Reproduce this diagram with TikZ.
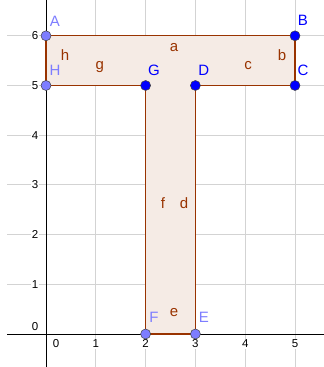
\documentclass[tikz,border=0pt]{standalone}
\usepackage{fontspec}
\setmainfont{Liberation Sans}
\definecolor{lightpt}{RGB}{125,125,255}
\definecolor{darkpt}{RGB}{0,0,255}
\definecolor{ggbrown}{RGB}{153,51,0}
\definecolor{gridgray}{RGB}{211,211,211}
\begin{document}
\begin{tikzpicture}[x=49.8pt,y=49.7pt,
  gridline/.style={draw=gridgray, line width=1pt},
  axisline/.style={draw=black, line width=0.9pt},
  ticklab/.style={fill=white, inner sep=1pt, font=\fontsize{11.5}{12}\selectfont},
  edge/.style={draw=ggbrown, line width=1.1pt},
  ptlight/.style={circle, fill=lightpt, draw=black!75, line width=0.5pt, minimum size=10pt, inner sep=0pt},
  ptdark/.style={circle, fill=darkpt, draw=black!75, line width=0.5pt, minimum size=10pt, inner sep=0pt},
  lablight/.style={text=lightpt, inner sep=0pt, font=\fontsize{15}{15}\selectfont},
  labdark/.style={text=darkpt, inner sep=0pt, font=\fontsize{15}{15}\selectfont},
  seglab/.style={text=ggbrown, inner sep=0pt, font=\fontsize{15}{15}\selectfont}]
\useasboundingbox (-0.9237,-0.664) rectangle (5.5823,6.7203);
% grid
\foreach \x in {1,...,5} \draw[gridline] (\x,-0.664) -- (\x,6.7203);
\foreach \y in {1,...,6} \draw[gridline] (-0.78,\y) -- (5.5823,\y);
% axes
\draw[axisline] (0,-0.664) -- (0,6.7203);
\draw[axisline] (-0.78,0) -- (5.5823,0);
% tick labels
\node[ticklab] (x0) at (0.2,-0.2) {0};
\foreach \x in {1,...,5} \node[ticklab] (x\x) at (\x,-0.2) {\x};
\node[ticklab] (y0) at (-0.22,0.14) {0};
\foreach \y in {1,...,6} \node[ticklab] (y\y) at (-0.22,\y) {\y};
% vertices
\coordinate (A) at (0,6);
\coordinate (B) at (5,6);
\coordinate (C) at (5,5);
\coordinate (D) at (3,5);
\coordinate (E) at (3,0);
\coordinate (F) at (2,0);
\coordinate (G) at (2,5);
\coordinate (H) at (0,5);
% polygon
\fill[ggbrown!10] (A) -- (B) -- (C) -- (D) -- (E) -- (F) -- (G) -- (H) -- cycle;
\draw[edge] (A) -- (B);
\draw[edge] (B) -- (C);
\draw[edge] (C) -- (D);
\draw[edge] (D) -- (E);
\draw[edge] (E) -- (F);
\draw[edge] (F) -- (G);
\draw[edge] (G) -- (H);
\draw[edge] (H) -- (A);
% points
\node[ptlight] (pA) at (A) {};
\node[ptdark] (pB) at (B) {};
\node[ptdark] (pC) at (C) {};
\node[ptdark] (pD) at (D) {};
\node[ptlight] (pE) at (E) {};
\node[ptlight] (pF) at (F) {};
\node[ptdark] (pG) at (G) {};
\node[ptlight] (pH) at (H) {};
% point labels
\node[lablight] (lA) at (0.18,6.30) {A};
\node[labdark] (lB) at (5.16,6.32) {B};
\node[labdark] (lC) at (5.16,5.31) {C};
\node[labdark] (lD) at (3.17,5.31) {D};
\node[lablight] (lE) at (3.17,0.34) {E};
\node[lablight] (lF) at (2.17,0.34) {F};
\node[labdark] (lG) at (2.17,5.31) {G};
\node[lablight] (lH) at (0.18,5.31) {H};
% segment labels
\node[seglab] (sa) at (2.57,5.77) {a};
\node[seglab] (sb) at (4.74,5.61) {b};
\node[seglab] (sc) at (4.06,5.41) {c};
\node[seglab] (sd) at (2.77,2.64) {d};
\node[seglab] (se) at (2.57,0.44) {e};
\node[seglab] (sf) at (2.35,2.64) {f};
\node[seglab] (sg) at (1.08,5.37) {g};
\node[seglab] (sh) at (0.38,5.61) {h};
\end{tikzpicture}
\end{document}
